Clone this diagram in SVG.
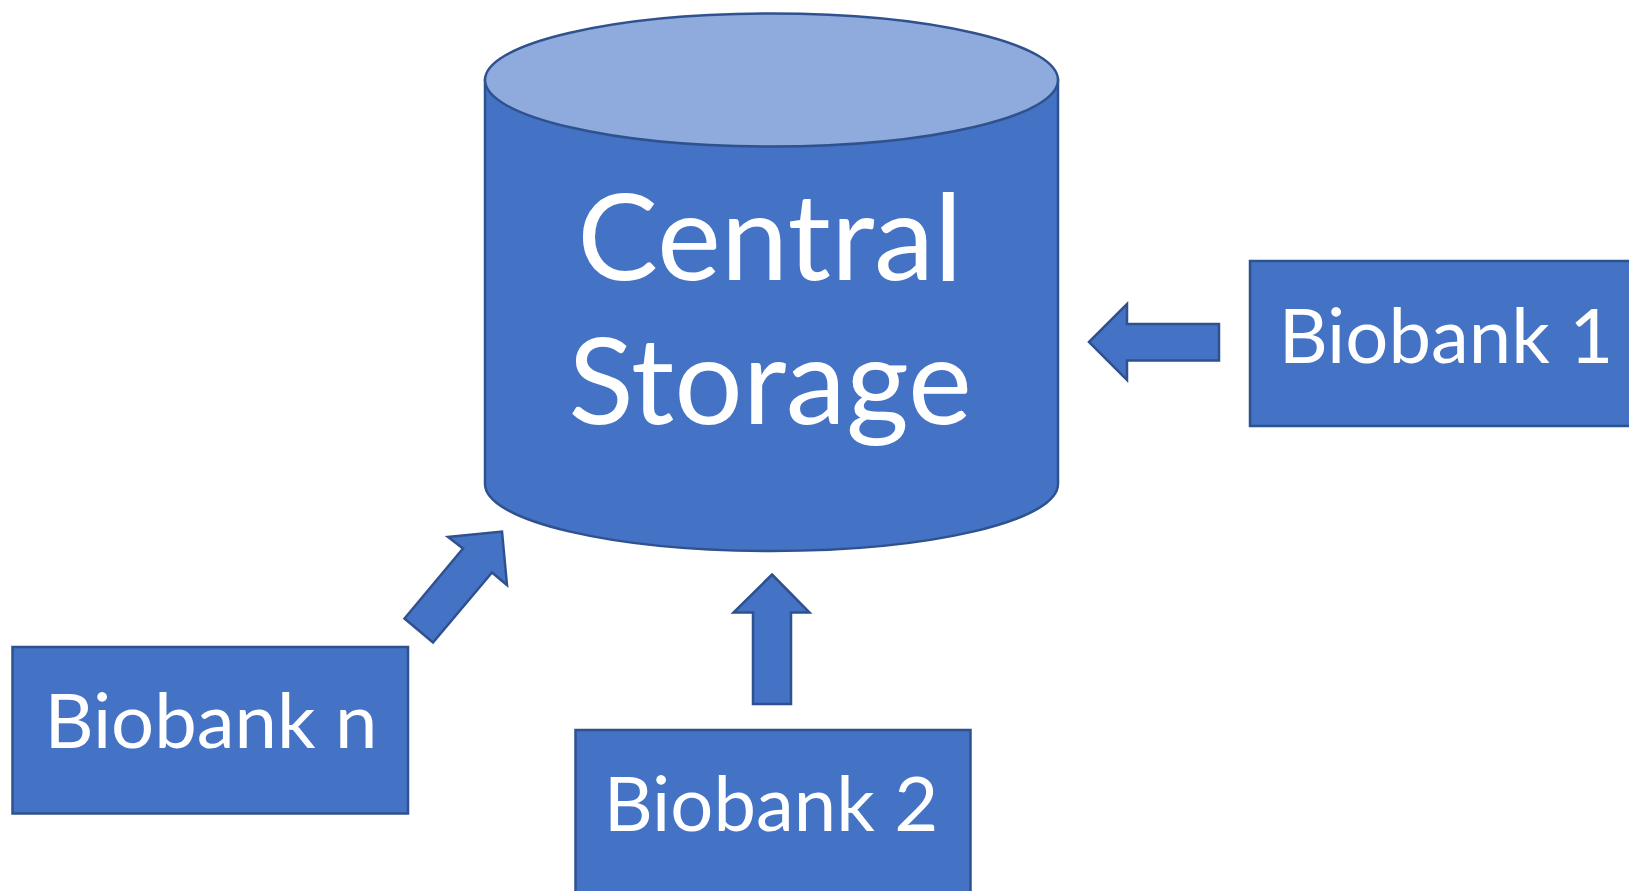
<svg xmlns="http://www.w3.org/2000/svg" width="1629" height="891" viewBox="0 0 1629 891">
<style>
.shape{fill:#4472C4;stroke:#2F528F;stroke-width:2.5;stroke-linejoin:miter}
.top{fill:#8FAADC;stroke:#2F528F;stroke-width:2.5}
.big{font-family:Lato,"Open Sans","Liberation Sans",sans-serif;fill:#FFFFFF;font-size:121px;text-anchor:middle}
.lbl{font-family:Lato,"Open Sans","Liberation Sans",sans-serif;fill:#FFFFFF;font-size:76px;text-anchor:middle}
</style>
<rect width="1629" height="891" fill="#FFFFFF"/>
<g id="central-storage">
<path class="shape" d="M485,80 L485,484 A286.5,67 0 0 0 1058,484 L1058,80 Z"/>
<ellipse class="top" cx="771.5" cy="80" rx="286.5" ry="66.5"/>
<text class="big" x="770" y="280">Central</text>
<text class="big" x="770" y="424">Storage</text>
</g>
<g id="biobank-1">
<rect class="shape" x="1250" y="261" width="400" height="165"/>
<text class="lbl" x="1446" y="363">Biobank 1</text>
</g>
<g id="biobank-2">
<rect class="shape" x="575.5" y="730" width="395" height="180"/>
<text class="lbl" x="771" y="831">Biobank 2</text>
</g>
<g id="biobank-n">
<rect class="shape" x="12.5" y="647" width="395.5" height="166.5"/>
<text class="lbl" x="211" y="748">Biobank n</text>
</g>
<g id="connectors">
<polygon class="shape" points="1089,342 1127,304 1127,324 1219,324 1219,360.5 1127,360.5 1127,380"/>
<polygon class="shape" points="772,574.5 809.5,612.5 791,612.5 791,704 753,704 753,612.5 733.5,612.5"/>
<polygon class="shape" points="502,531.5 507,585 492,572.5 433,642.5 404.5,618.5 463,548.5 448,537"/>
</g>
</svg>
